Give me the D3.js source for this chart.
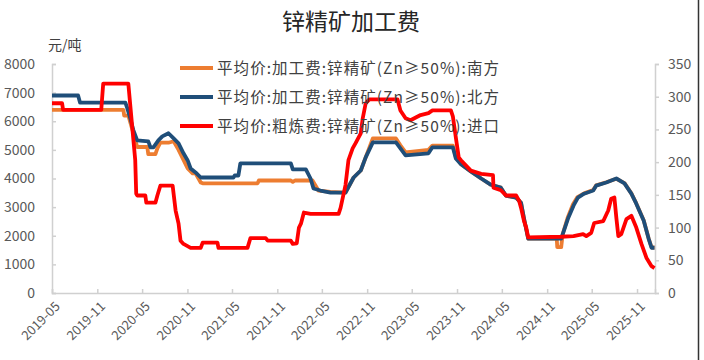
<!DOCTYPE html>
<html><head><meta charset="utf-8">
<script src="https://cdn.jsdelivr.net/npm/d3@7"></script>
<style>body{margin:0;background:#fff}svg{display:block}</style>
</head><body><svg id="c" width="704" height="360"></svg>
<script>
const title = "锌精矿加工费";
const unitLabel = "元/吨";
const seriesNames = ["平均价:加工费:锌精矿(Zn≥50%):南方","平均价:加工费:锌精矿(Zn≥50%):北方","平均价:粗炼费:锌精矿(Zn≥50%):进口"];
const xTickLabels = ["2019-05","2019-11","2020-05","2020-11","2021-05","2021-11","2022-05","2022-11","2023-05","2023-11","2024-05","2024-11","2025-05","2025-11"];
const leftTicks = [0,1000,2000,3000,4000,5000,6000,7000,8000];
const rightTicks = [0,50,100,150,200,250,300,350];

const southDates = ["2019-05-01","2020-02-15","2020-02-18","2020-03-06","2020-03-26","2020-04-11","2020-05-22","2020-05-26","2020-06-24","2020-07-02","2020-07-14","2020-08-16","2020-09-06","2020-09-26","2020-10-16","2020-11-02","2020-11-22","2020-12-04","2020-12-25","2021-01-02","2021-08-13","2021-08-18","2021-12-26","2022-01-03","2022-01-12","2022-03-24","2022-04-05","2022-04-17","2022-06-05","2022-08-05","2022-09-07","2022-10-06","2022-10-26","2022-11-24","2023-02-26","2023-03-16","2023-04-06","2023-07-08","2023-07-24","2023-10-15","2023-10-27","2023-11-17","2023-12-27","2024-02-07","2024-03-18","2024-04-27","2024-05-18","2024-06-28","2024-07-18","2024-07-30","2024-08-16","2024-12-10","2024-12-12","2024-12-28","2025-01-03","2025-01-24","2025-02-14","2025-03-04","2025-03-31","2025-05-07","2025-05-19","2025-06-29","2025-08-09","2025-09-11","2025-10-09","2025-10-29","2025-11-28","2025-12-18","2025-12-30","2026-01-11"];
const southValues = [6400,6400,6200,6200,5600,5100,5100,4850,4850,5050,5250,5250,5300,5000,4650,4350,4180,4180,3860,3830,3830,3930,3930,3880,3930,3930,3760,3580,3530,3510,4035,4280,4740,5400,5400,5160,4910,5000,5150,5150,4750,4500,4250,4000,3780,3680,3400,3330,3150,2600,1900,1900,1600,1600,2050,2650,3100,3350,3480,3600,3760,3870,3990,3840,3480,3130,2540,1910,1590,1590];

const northDates = ["2019-05-01","2019-08-15","2019-08-23","2020-02-23","2020-03-02","2020-03-14","2020-03-26","2020-04-11","2020-05-26","2020-06-04","2020-06-16","2020-07-06","2020-07-22","2020-08-16","2020-09-06","2020-09-26","2020-10-16","2020-11-02","2020-11-14","2020-12-04","2020-12-25","2021-05-07","2021-05-12","2021-05-27","2021-06-04","2021-12-26","2022-01-03","2022-02-25","2022-03-16","2022-03-28","2022-04-25","2022-06-05","2022-08-05","2022-09-07","2022-10-06","2022-10-26","2022-11-24","2023-02-26","2023-03-16","2023-04-06","2023-07-08","2023-07-24","2023-10-15","2023-10-27","2023-11-17","2023-12-27","2024-02-07","2024-03-18","2024-04-27","2024-05-18","2024-06-28","2024-07-18","2024-07-30","2024-08-16","2024-12-28","2025-01-05","2025-01-26","2025-02-16","2025-03-06","2025-03-31","2025-05-07","2025-05-19","2025-06-29","2025-08-09","2025-09-11","2025-10-09","2025-10-29","2025-11-28","2025-12-18","2025-12-30","2026-01-11"];
const northValues = [6900,6900,6650,6650,6450,6100,5700,5330,5300,5090,5090,5330,5470,5580,5400,5230,4880,4630,4350,4210,4035,4035,4105,4105,4530,4530,4320,4320,4000,3650,3580,3510,3510,4035,4280,4740,5260,5260,5050,4810,4880,5090,5090,4700,4500,4250,4000,3780,3680,3400,3330,3150,2600,1900,1900,2100,2630,3050,3330,3470,3580,3750,3860,4000,3830,3470,3120,2530,1900,1580,1580];

const importDates = ["2019-05-01","2019-06-11","2019-06-15","2019-11-17","2019-11-25","2020-03-06","2020-03-22","2020-04-03","2020-04-07","2020-04-11","2020-05-14","2020-05-18","2020-06-24","2020-07-02","2020-07-14","2020-09-02","2020-09-14","2020-09-26","2020-10-04","2020-10-16","2020-11-14","2020-12-25","2021-01-02","2021-03-03","2021-03-07","2021-07-03","2021-07-15","2021-09-15","2021-09-23","2021-12-26","2022-01-03","2022-01-19","2022-01-28","2022-02-05","2022-02-17","2022-03-16","2022-07-08","2022-07-16","2022-08-05","2022-08-17","2022-09-03","2022-09-15","2022-10-06","2022-10-14","2022-10-26","2022-11-10","2023-03-04","2023-03-16","2023-04-06","2023-04-26","2023-06-06","2023-07-08","2023-07-24","2023-10-07","2023-10-15","2023-10-27","2023-11-08","2023-11-17","2023-12-27","2024-02-07","2024-03-26","2024-03-28","2024-04-27","2024-05-18","2024-06-28","2024-07-10","2024-07-18","2024-07-30","2024-08-08","2024-08-16","2024-12-28","2025-02-16","2025-03-27","2025-04-09","2025-04-29","2025-05-11","2025-06-17","2025-07-07","2025-07-19","2025-08-01","2025-08-09","2025-08-17","2025-08-29","2025-09-19","2025-10-09","2025-10-29","2025-11-19","2025-12-09","2025-12-30","2026-01-11"];
const importValues = [290,290,280,280,320,320,253,203,152,149,149,138,138,149,164,164,126,106,80,75,69,69,77,77,69,69,84,84,80,80,75,76,100,106,123,121,121,130,165,203,221,229,244,267,290,296,296,279,267,264,272,275,279,279,270,238,207,203,187,182,180,161,157,149,149,141,130,110,100,85,86,87,90,87,92,107,110,126,144,146,115,87,90,113,118,100,75,54,41,38];

const colors = ["#ED7D31","#1F4E79","#FF0000"];
const svg = d3.select("#c");
const L = 52, R = 655, T = 64, B = 293;
const parse = d3.timeParse("%Y-%m-%d");
const x = d3.scaleTime().domain([parse("2019-05-01"), parse("2026-01-13")]).range([L, R]);
const yL = d3.scaleLinear().domain([0, 8000]).range([B, T]);
const yR = d3.scaleLinear().domain([0, 350]).range([B, T]);
const font = "'Noto Sans CJK SC', 'Noto Sans', sans-serif";
const axisColor = "#d0d0d0";
const labelColor = "#595959";

svg.append("text").attr("x", 351).attr("y", 30).attr("text-anchor", "middle")
  .attr("font-family", font).attr("font-size", 23).attr("fill", "#262626").text(title);
svg.append("text").attr("x", 48).attr("y", 50)
  .attr("font-family", font).attr("font-size", 14).attr("fill", "#404040").text(unitLabel);

// axes
const gL = svg.append("g").attr("transform", `translate(${L},0)`)
  .call(d3.axisLeft(yL).tickValues(leftTicks).tickSize(-4).tickPadding(17).tickFormat(d3.format("d")));
const gR = svg.append("g").attr("transform", `translate(${R},0)`)
  .call(d3.axisRight(yR).tickValues(rightTicks).tickSize(4).tickPadding(9).tickFormat(d3.format("d")));
const xTickDates = xTickLabels.map(s => parse(s + "-01"));
const gX = svg.append("g").attr("transform", `translate(0,${B})`)
  .call(d3.axisBottom(x).tickValues(xTickDates).tickSize(-4).tickPadding(6).tickFormat((d, i) => xTickLabels[i]));
[gL, gR, gX].forEach(g => {
  g.select(".domain").attr("stroke", axisColor).attr("stroke-width", 1.5);
  g.selectAll(".tick line").attr("stroke", axisColor).attr("stroke-width", 1.5);
  g.selectAll("text").attr("font-family", font).attr("font-size", 14).attr("fill", labelColor);
});
gX.selectAll("text").attr("font-size", 13).attr("text-anchor", "end")
  .attr("dx", 0).attr("dy", 0).attr("transform", "translate(4,10) rotate(-45)");

// lines
const mk = (dates, vals) => dates.map((d, i) => ({ d: parse(d), v: vals[i] }));
const data = [mk(southDates, southValues), mk(northDates, northValues), mk(importDates, importValues)];
const scales = [yL, yL, yR];
data.forEach((s, i) => {
  const line = d3.line().x(p => x(p.d)).y(p => scales[i](p.v));
  svg.append("path").datum(s).attr("d", line).attr("fill", "none")
    .attr("stroke", colors[i]).attr("stroke-width", 3.8).attr("stroke-linejoin", "round");
});

// legend
const legY = [68, 97, 126];
seriesNames.forEach((n, i) => {
  svg.append("line").attr("x1", 180).attr("x2", 213).attr("y1", legY[i]).attr("y2", legY[i])
    .attr("stroke", colors[i]).attr("stroke-width", 4);
  svg.append("text").attr("x", 217).attr("y", legY[i] + 5.5).attr("font-family", font)
    .attr("font-size", 15.5).attr("fill", "#404040")
    .attr("textLength", 282).attr("lengthAdjust", "spacing").text(n);
});

// frame edge on the right
svg.append("line").attr("x1", 698.5).attr("x2", 698.5).attr("y1", 0).attr("y2", 360)
  .attr("stroke", "#333").attr("stroke-width", 1.5);
</script></body></html>
